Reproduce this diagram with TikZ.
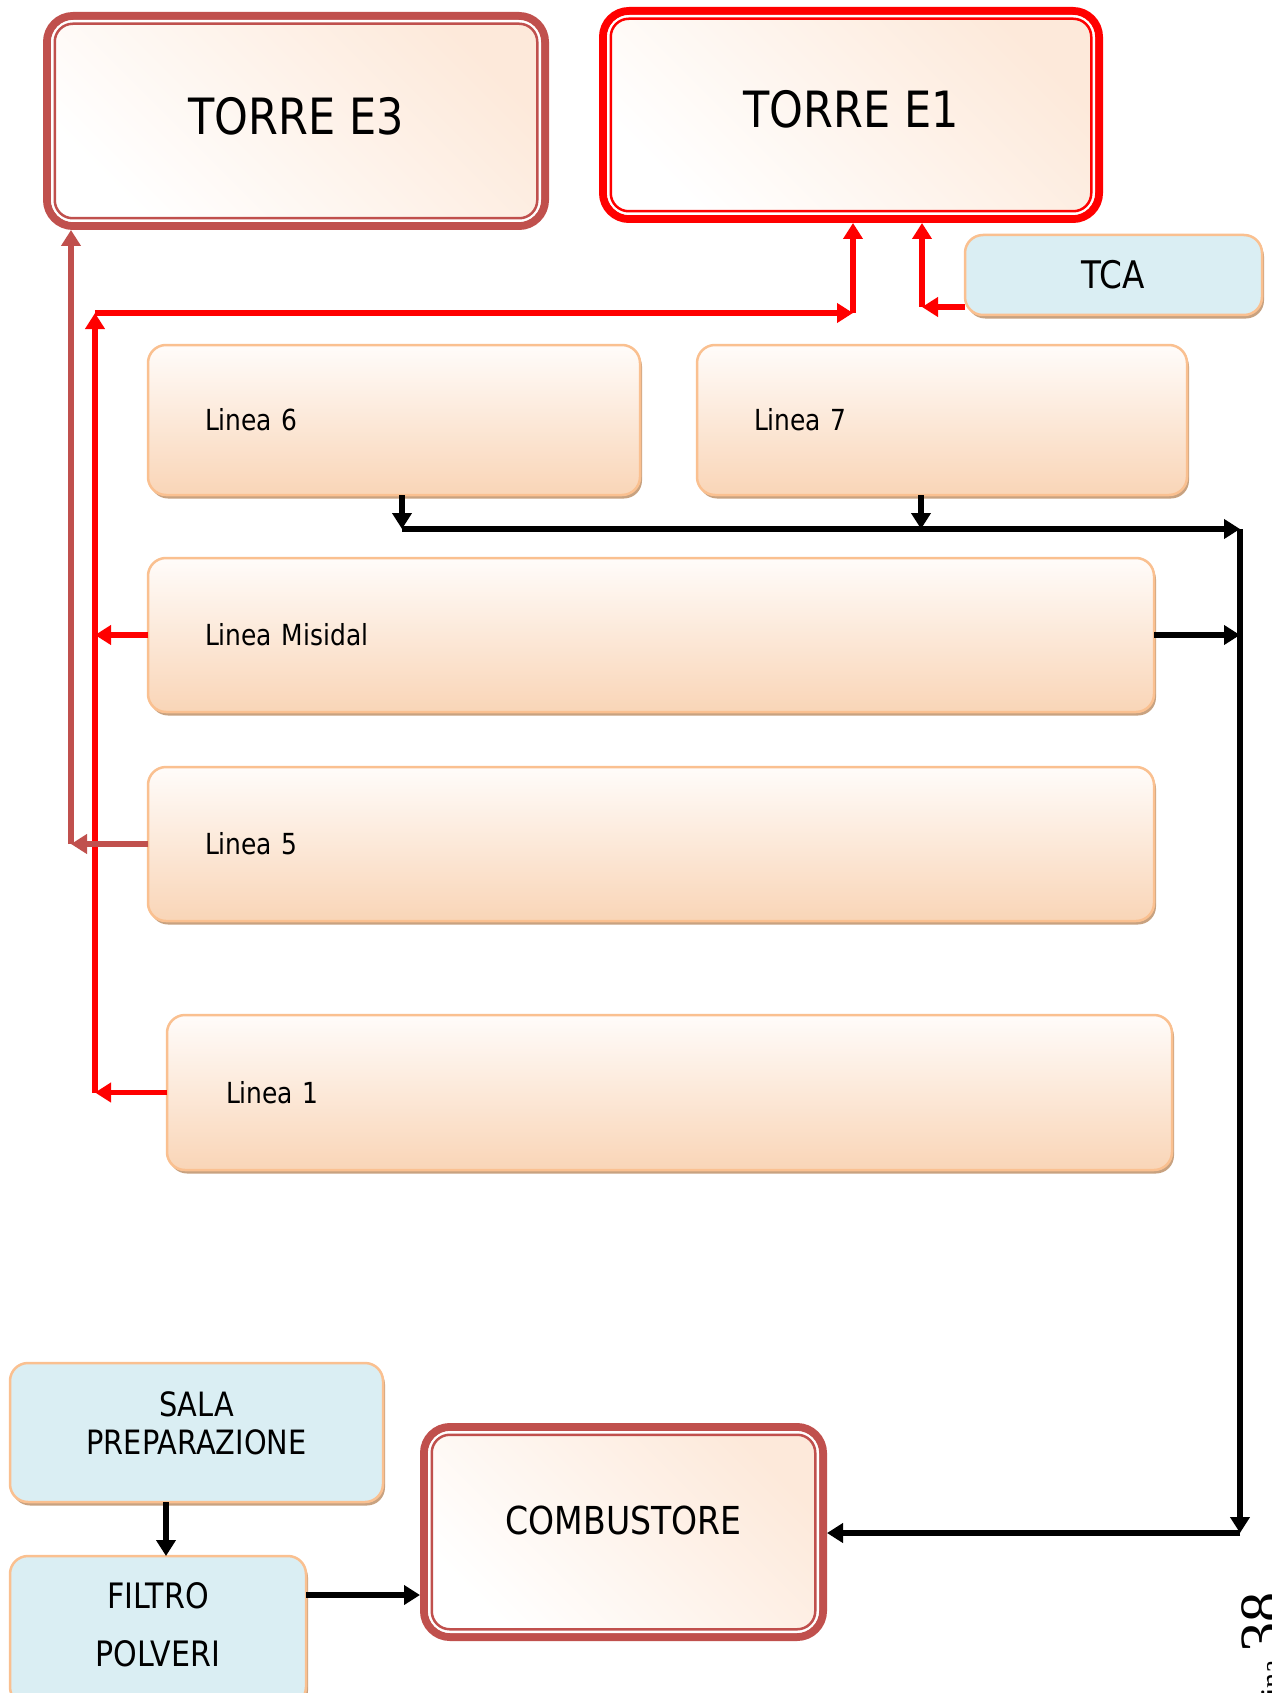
\documentclass[tikz,border=0pt]{standalone}
\usepackage{fontspec}
\setmainfont{DejaVu Sans}[FakeStretch=0.86]
\newfontfamily\pgfont{Liberation Serif}
\usetikzlibrary{arrows.meta,calc}
\definecolor{tred}{RGB}{255,0,0}
\definecolor{dred}{RGB}{192,80,77}
\definecolor{bord}{RGB}{250,192,144}
\definecolor{blueb}{RGB}{218,238,243}
\definecolor{peachtop}{RGB}{255,252,250}
\definecolor{peachbot}{RGB}{249,213,183}
\definecolor{torrec}{RGB}{253,233,218}
\definecolor{shadc}{RGB}{200,162,128}
\begin{document}
\begin{tikzpicture}[x=1pt,y=1pt,
  boxbase/.style={rectangle, rounded corners=18pt, draw=bord, line width=2.5pt, outer sep=0pt,
    preaction={fill=shadc, transform canvas={xshift=2pt,yshift=-3.5pt}}},
  lineabox/.style={boxbase, top color=peachtop, bottom color=peachbot, align=left,
    font=\fontsize{29}{35}\selectfont, inner xsep=57pt},
  bluebox/.style={boxbase, fill=blueb, align=center},
  torre/.style={rectangle, rounded corners=26pt, draw=#1, line width=8pt, outer sep=0pt,
    bottom color=white, top color=torrec, shading angle=-45},
  arr/.style={-{Triangle[length=16pt,width=19pt]}},
  blk/.style={arr, line width=5.5pt, black},
  rline/.style={arr, line width=5.5pt, tred},
  drline/.style={arr, line width=5.5pt, dred}
]
\useasboundingbox (0,0) rectangle (1271,-1693);
\clip (0,0) rectangle (1271,-1693);
\fill[white] (0,0) rectangle (1271,-1693);

% main towers
\node[torre=dred, minimum width=498pt, minimum height=210pt, text depth=10pt,
  font=\fontsize{50}{58}\selectfont] (e3) at (296,-121) {TORRE E3};
\node[torre=tred, minimum width=496pt, minimum height=208pt, text depth=12pt,
  font=\fontsize{50}{58}\selectfont] (e1) at (851,-115) {TORRE E1};
\node[torre=dred, minimum width=399pt, minimum height=210pt, text depth=24pt,
  font=\fontsize{38.5}{44}\selectfont] (comb) at (623.5,-1532) {COMBUSTORE};
\foreach \n/\c in {e3/dred, e1/tred, comb/dred}{
  \draw[white, line width=3pt, rounded corners=21pt]
    ([shift={(5.5,-5.5)}]\n.north west) rectangle ([shift={(-5.5,5.5)}]\n.south east);
  \draw[\c, line width=2.5pt, rounded corners=18pt]
    ([shift={(7.75,-7.75)}]\n.north west) rectangle ([shift={(-7.75,7.75)}]\n.south east);
}

% blue boxes
\node[bluebox, minimum width=297pt, minimum height=80pt,
  font=\fontsize{38}{44}\selectfont] (tca) at (1113.5,-275) {TCA};
\node[bluebox, minimum width=373pt, minimum height=139pt, text depth=18pt,
  font=\fontsize{33.5}{38}\selectfont] (sala) at (196.5,-1432.5) {SALA\\PREPARAZIONE};
\node[bluebox, minimum width=296pt, minimum height=149pt, text depth=12pt,
  font=\fontsize{35}{38}\selectfont] (filtro) at (158,-1630.5) {FILTRO\\[20pt]POLVERI};

% linea boxes
\node[lineabox, minimum width=492pt, minimum height=150pt, text width=378pt] (l6) at (394,-420) {Linea 6};
\node[lineabox, minimum width=490pt, minimum height=150pt, text width=376pt] (l7) at (942,-420) {Linea 7};
\node[lineabox, minimum width=1006pt, minimum height=154pt, text width=892pt] (lm) at (651,-635) {Linea Misidal};
\node[lineabox, minimum width=1006pt, minimum height=154pt, text width=892pt] (l5) at (651,-844) {Linea 5};
\node[lineabox, minimum width=1005pt, minimum height=155pt, text width=887pt, inner xsep=59pt] (l1) at (669.5,-1092.5) {Linea 1};

% junction coordinates
\coordinate (j6) at (402,-529);
\coordinate (j7) at (921,-529);
\coordinate (jr) at (1240,-529);
\coordinate (jb) at (1240,-1533);
\coordinate (rv) at (95,-313);
\coordinate (rt) at (853,-313);
\coordinate (tc) at (922,-307);
\coordinate (dv) at (71,-842);
\coordinate (sf) at (166,-1556);
\coordinate (fc) at (424,-1595);

% black connectors
\draw[blk] (l6.south -| j6) -- (j6);
\draw[blk] (l7.south -| j7) -- (j7);
\draw[blk] (j6) -- (jr);
\draw[blk] (lm.east) -- (lm.east -| jr);
\draw[blk] (jr) -- (jb);
\draw[blk, shorten >=4pt] (jb) -- (comb.east |- jb);
\draw[blk] (sala.south -| sf) -- (sf);
\draw[blk, shorten >=4pt] (filtro.east |- fc) -- (fc);

% red connectors
\draw[rline] (l1.west) -- (l1.west -| rv);
\draw[rline] (lm.west) -- (lm.west -| rv);
\draw[rline] (l1.west -| rv) -- (rv);
\draw[rline] (rv) -- (rt);
\draw[rline, shorten >=4pt] (rt) -- (rt |- e1.south);
\draw[rline] (tc -| tca.west) -- (tc);
\draw[rline, shorten >=4pt] (tc) -- (tc |- e1.south);

% dark red connectors
\draw[drline] (l5.west) -- (l5.west -| dv);
\draw[drline, shorten >=4pt] (l5.west -| dv) -- (dv |- e3.south);

% page number
\node[rotate=90, anchor=base east, inner sep=0pt, font=\pgfont] (pg) at (1281,-1592)
  {{\fontsize{30}{30}\selectfont Pagina }{\fontsize{60}{60}\selectfont 38}};
\end{tikzpicture}
\end{document}
